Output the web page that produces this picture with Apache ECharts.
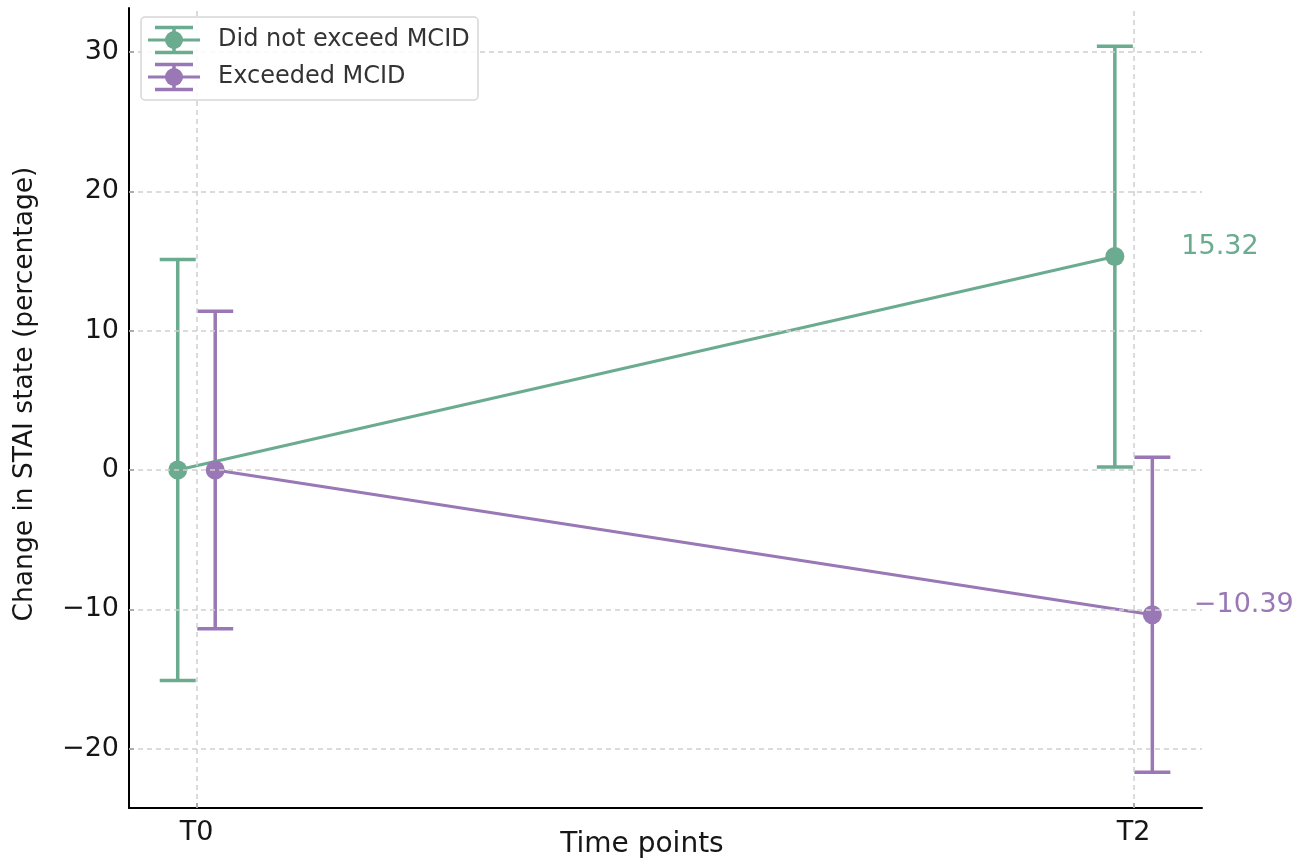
<!DOCTYPE html>
<html>
<head>
<meta charset="utf-8">
<script src="https://cdn.jsdelivr.net/npm/echarts@6/dist/echarts.min.js"></script>
<style>
  html, body { margin: 0; padding: 0; background: #fff; }
  #chart { width: 1302px; height: 861px; }
</style>
</head>
<body>
<div id="chart"></div>
<script>
// Time points and their positions on the numeric x axis
const timeLabels = ['T0', 'T2'];
const timePositions = [0, 1];

// Group names
const groupNames = ['Did not exceed MCID', 'Exceeded MCID'];

// Mean change (%) and error half-widths per time point
const notExceedMeans = [0, 15.32];
const notExceedErrors = [15.1, 15.1];
const exceededMeans = [0, -10.39];
const exceededErrors = [11.4, 11.3];

// Y axis tick values
const yTicks = [-20, -10, 0, 10, 20, 30];

const FONT = 'DejaVu Sans';
const TEXT = '#161616';
const GREEN = '#6bab8f';
const PURPLE = '#9a77b5';
const DODGE = 0.02;

function groupPoints(means, errs, shift) {
  return timePositions.map((t, i) => [t + shift, means[i], errs[i]]);
}

const greenPts = groupPoints(notExceedMeans, notExceedErrors, -DODGE);
const purplePts = groupPoints(exceededMeans, exceededErrors, DODGE);

function errorBarSeries(name, pts, color) {
  return {
    name: name,
    type: 'custom',
    data: pts,
    z: 3,
    silent: true,
    renderItem: function (params, api) {
      const x = api.value(0), m = api.value(1), e = api.value(2);
      const top = api.coord([x, m + e]);
      const bot = api.coord([x, m - e]);
      const cap = 18;
      const style = { stroke: color, lineWidth: 3.5 };
      return {
        type: 'group',
        children: [
          { type: 'line', shape: { x1: top[0], y1: top[1], x2: bot[0], y2: bot[1] }, style: style },
          { type: 'line', shape: { x1: top[0] - cap, y1: top[1], x2: top[0] + cap, y2: top[1] }, style: style },
          { type: 'line', shape: { x1: bot[0] - cap, y1: bot[1], x2: bot[0] + cap, y2: bot[1] }, style: style }
        ]
      };
    }
  };
}

function meanSeries(name, pts, color, labelDx) {
  return {
    name: name,
    type: 'line',
    z: 4,
    symbol: 'circle',
    symbolSize: 19,
    showSymbol: true,
    lineStyle: { color: color, width: 3 },
    itemStyle: { color: color },
    data: pts.map((p, i) => {
      const item = { value: [p[0], p[1]] };
      if (i === pts.length - 1) {
        item.label = {
          show: true,
          position: 'right',
          distance: 0,
          offset: [labelDx, -10],
          formatter: () => p[1].toFixed(2).replace('-', '\u2212'),
          color: color,
          fontFamily: FONT,
          fontSize: 27
        };
      }
      return item;
    })
  };
}

const gridLineStyle = { color: '#cfcfcf', type: [5, 4], width: 1.5 };

const gridSeries = {
  type: 'line',
  data: [],
  silent: true,
  z: 1,
  markLine: {
    silent: true,
    symbol: 'none',
    label: { show: false },
    lineStyle: gridLineStyle,
    data: timePositions.map(t => ({ xAxis: t })).concat(yTicks.map(v => ({ yAxis: v })))
  }
};

// Legend drawn as an error-bar glyph next to each group name
function legendEntry(y, color, text) {
  const z = 11;
  return [
    { type: 'line', z: z, shape: { x1: 148, y1: y, x2: 200, y2: y }, style: { stroke: color, lineWidth: 3 } },
    { type: 'line', z: z, shape: { x1: 155, y1: y - 12.5, x2: 193, y2: y - 12.5 }, style: { stroke: color, lineWidth: 3.5 } },
    { type: 'line', z: z, shape: { x1: 155, y1: y + 12.5, x2: 193, y2: y + 12.5 }, style: { stroke: color, lineWidth: 3.5 } },
    { type: 'line', z: z, shape: { x1: 174, y1: y - 12.5, x2: 174, y2: y + 12.5 }, style: { stroke: color, lineWidth: 3.5 } },
    { type: 'circle', z: z, shape: { cx: 174, cy: y, r: 9 }, style: { fill: color } },
    { type: 'text', z: z, x: 218, y: y, style: { text: text, fontFamily: FONT, fontSize: 24, fill: '#333', verticalAlign: 'middle' } }
  ];
}

const chart = echarts.init(document.getElementById('chart'), null, { renderer: 'canvas' });

chart.setOption({
  animation: false,
  backgroundColor: '#fff',
  grid: { left: 129, right: 100, top: 8, bottom: 53, containLabel: false },
  xAxis: {
    type: 'value',
    min: -0.072,
    max: 1.073,
    axisLine: { show: true, onZero: false, lineStyle: { color: '#000', width: 2 } },
    axisTick: { show: true, inside: true, length: 5, lineStyle: { color: '#000', width: 1.5 }, customValues: timePositions },
    axisLabel: {
      show: true,
      customValues: timePositions,
      formatter: v => timeLabels[timePositions.indexOf(v)] ?? '',
      fontFamily: FONT, fontSize: 27, color: TEXT, margin: 11
    },
    splitLine: { show: false }
  },
  yAxis: {
    type: 'value',
    min: -24.26,
    max: 33.16,
    axisLine: { show: true, onZero: false, lineStyle: { color: '#000', width: 2 } },
    axisTick: { show: true, inside: true, length: 5, lineStyle: { color: '#000', width: 1.5 }, customValues: yTicks },
    axisLabel: {
      show: true,
      customValues: yTicks,
      formatter: v => (v < 0 ? '\u2212' + Math.abs(v) : String(v)),
      fontFamily: FONT, fontSize: 27, color: TEXT, margin: 10
    },
    splitLine: { show: false }
  },
  series: [
    gridSeries,
    errorBarSeries(groupNames[0], greenPts, GREEN),
    errorBarSeries(groupNames[1], purplePts, PURPLE),
    meanSeries(groupNames[0], greenPts, GREEN, 57),
    meanSeries(groupNames[1], purplePts, PURPLE, 32)
  ],
  graphic: [
    {
      type: 'text', x: 642, y: 845,
      style: { text: 'Time points', fontFamily: FONT, fontSize: 28, fill: TEXT, align: 'center', verticalAlign: 'middle' }
    },
    {
      type: 'text', x: 25, y: 394, rotation: Math.PI / 2,
      style: { text: 'Change in STAI state (percentage)', fontFamily: FONT, fontSize: 26.5, fill: TEXT, align: 'center', verticalAlign: 'middle' }
    },
    {
      type: 'rect', z: 10,
      shape: { x: 141, y: 17, width: 337, height: 83, r: 4 },
      style: { fill: 'rgba(255,255,255,0.85)', stroke: '#d6d6d6', lineWidth: 1.5 }
    }
  ].concat(legendEntry(40, GREEN, groupNames[0]), legendEntry(77, PURPLE, groupNames[1]))
});
</script>
</body>
</html>
